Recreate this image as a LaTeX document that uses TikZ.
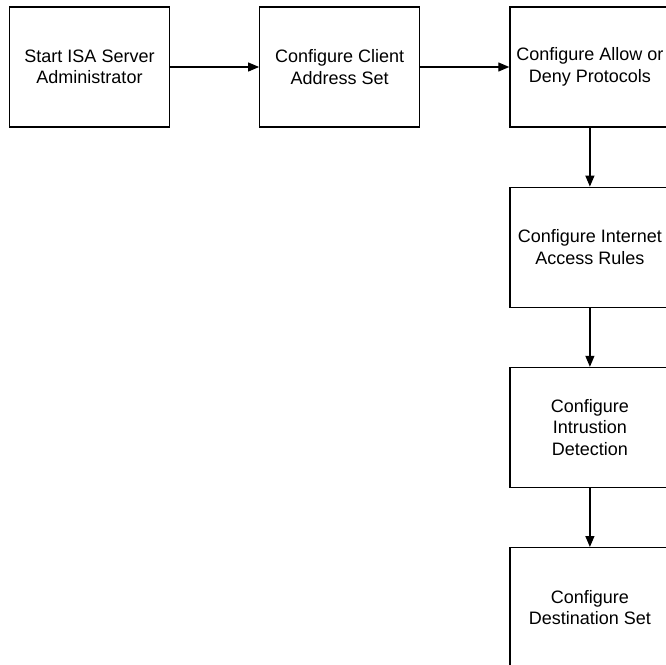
\documentclass[tikz,border=0pt]{standalone}
\usepackage{fontspec}
\setmainfont{Liberation Sans}
\usetikzlibrary{positioning,arrows.meta}

\begin{document}
\begin{tikzpicture}[x=1pt, y=1pt, node distance=59pt and 89pt,
  task/.style = {shape=rectangle, draw, line width=1.2pt, align=center,
    minimum width=160pt, minimum height=120pt, inner sep=2pt,
    font=\fontsize{18}{21.5}\selectfont},
  flow/.style = {draw, line width=1.2pt, -{Triangle[length=11pt,width=9pt]}}]
  \useasboundingbox (0,0) rectangle (666,-664);
  \node[task] (start) at (89.5,-67) {Start ISA Server\\Administrator};
  \node[task, right=of start] (client) {Configure Client\\Address Set};
  \node[task, right=of client] (proto) {Configure Allow or\\Deny Protocols};
  \node[task, below=of proto] (rules) {Configure Internet\\Access Rules};
  \node[task, below=of rules] (intrus) {Configure\\Intrustion\\Detection};
  \node[task, below=of intrus] (dest) {Configure\\Destination Set};
  \draw[flow] (start) -- (client);
  \draw[flow] (client) -- (proto);
  \draw[flow] (proto) -- (rules);
  \draw[flow] (rules) -- (intrus);
  \draw[flow] (intrus) -- (dest);
\end{tikzpicture}
\end{document}
